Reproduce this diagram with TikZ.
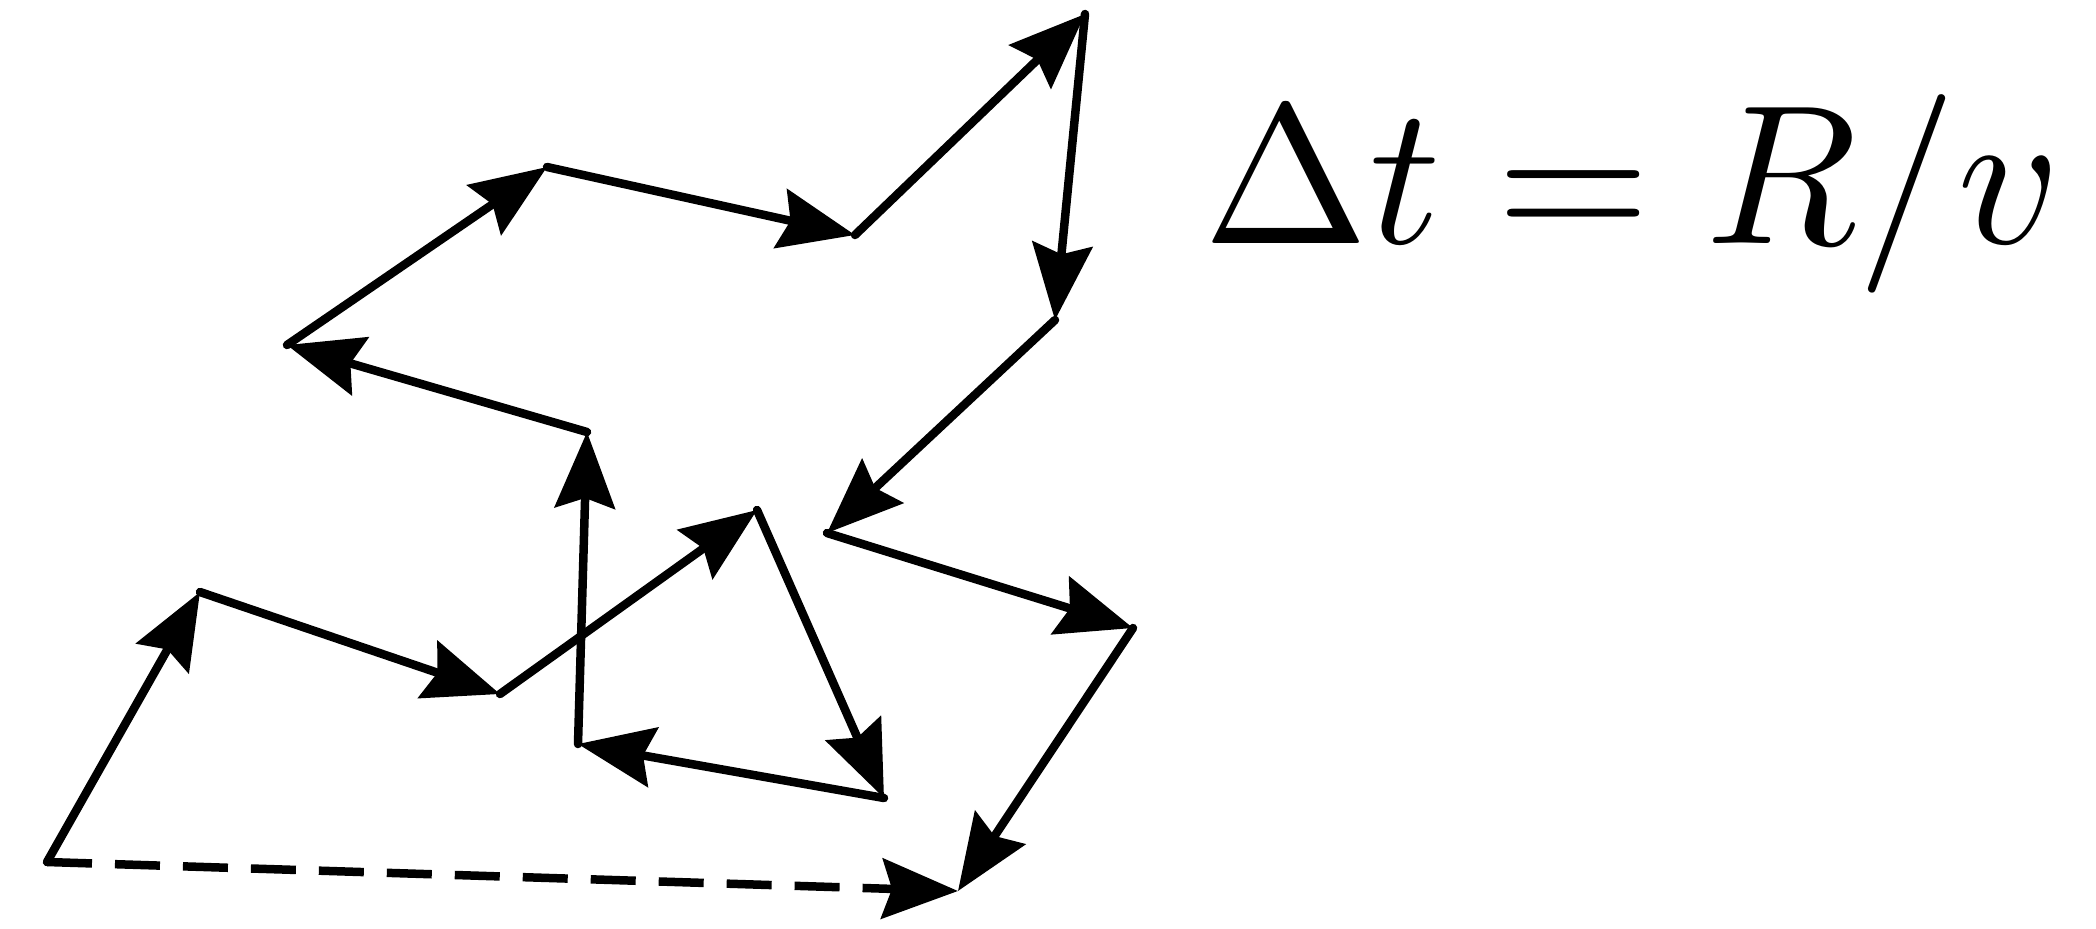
\documentclass[tikz,border=0pt]{standalone}
\usepackage{graphicx}
\usetikzlibrary{arrows.meta}
\begin{document}
\begin{tikzpicture}[x=0.1mm,y=-0.1mm,
  walk/.style={line width=0.85mm, line cap=round, line join=round,
    -{Stealth[length=7.6mm,width=6mm,inset=1mm]}},
  ghost/.style={walk, line cap=butt, dash pattern=on 4.5mm off 2.3mm}]
\useasboundingbox (0,0) rectangle (2096,928);
\coordinate (p0) at (47,862);
\coordinate (p1) at (200,592);
\coordinate (p2) at (500,694);
\coordinate (p3) at (757,510);
\coordinate (p4) at (884,798);
\coordinate (p5) at (578,744);
\coordinate (p6) at (587,432);
\coordinate (p7) at (287,345);
\coordinate (p8) at (547,167);
\coordinate (p9) at (855,235);
\coordinate (p10) at (1085,14);
\coordinate (p11) at (1055,320);
\coordinate (p12) at (827,533);
\coordinate (p13) at (1133,628);
\coordinate (p14) at (958,891);
\draw[walk] (p0) -- (p1);
\draw[walk] (p1) -- (p2);
\draw[walk] (p2) -- (p3);
\draw[walk] (p3) -- (p4);
\draw[walk] (p4) -- (p5);
\draw[walk] (p5) -- (p6);
\draw[walk] (p6) -- (p7);
\draw[walk] (p7) -- (p8);
\draw[walk] (p8) -- (p9);
\draw[walk] (p9) -- (p10);
\draw[walk] (p10) -- (p11);
\draw[walk] (p11) -- (p12);
\draw[walk] (p12) -- (p13);
\draw[walk] (p13) -- (p14);
\draw[ghost] (p0) -- (p14);
\node[anchor=base west, inner sep=0pt] (eq) at (1203,243) {\scalebox{5.65}{$\Delta t = R/v$}};
\end{tikzpicture}
\end{document}
